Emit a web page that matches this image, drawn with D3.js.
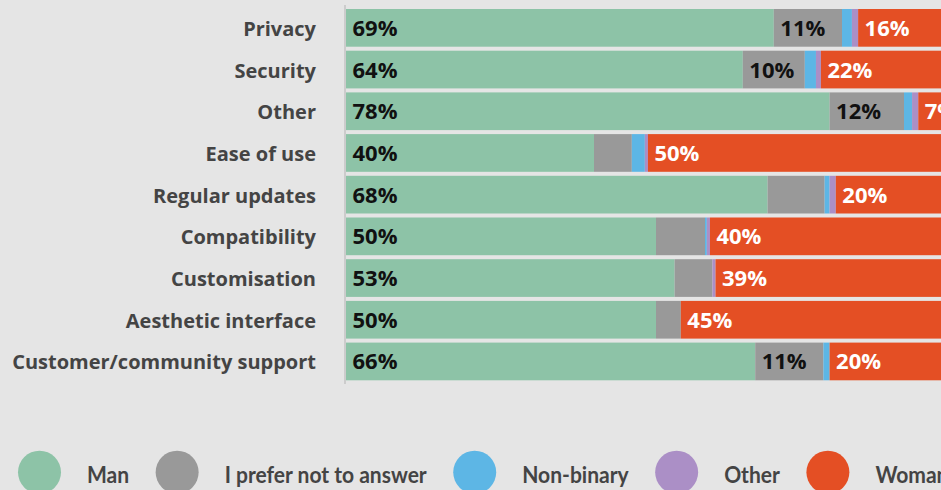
<!DOCTYPE html>
<html>
<head>
<meta charset="utf-8">
<script src="https://cdn.jsdelivr.net/npm/d3@7"></script>
<style>
  html, body { margin: 0; padding: 0; background: #e5e5e5; overflow: hidden; }
  svg { display: block; }
</style>
</head>
<body>
<svg id="chart" width="941" height="490"></svg>
<script>
// Features considered important, split by respondent gender (% of respondents)
const categories = ["Privacy", "Security", "Other", "Ease of use", "Regular updates",
  "Compatibility", "Customisation", "Aesthetic interface", "Customer/community support"];
const seriesNames = ["Man", "I prefer not to answer", "Non-binary", "Other", "Woman"];
const man         = [69, 64, 78, 40, 68, 50, 53, 50, 66];
const preferNot   = [11, 10, 12, 6.1, 9.2, 7.9, 6.1, 4.0, 11];
const nonBinary   = [1.6, 1.8, 1.3, 2.1, 0.8, 0.3, 0, 0, 1.0];
const otherGender = [1.0, 0.8, 1.0, 0.5, 1.0, 0.5, 0.5, 0, 0];
const woman       = [16, 22, 7, 50, 20, 40, 39, 45, 20];

const colors = ["#8dc3a7", "#999999", "#5db6e5", "#ab8fc6", "#e44f24"];
const labelColors = ["#111", "#111", "#111", "#111", "#fff"];
// Minimum share (%) a segment needs before it carries a value label
const labelMin = [0, 10, 100, 100, 0];

const seriesValues = [man, preferNot, nonBinary, otherGender, woman];
const rows = categories.map((c, i) => {
  const r = { category: c };
  seriesNames.forEach((s, j) => { r[s] = seriesValues[j][i]; });
  return r;
});

const svg = d3.select("#chart");
const fontFamily = "'Open Sans', sans-serif";

const x = d3.scaleLinear().domain([0, 100]).range([346, 966]);
const y = d3.scaleBand().domain(categories).range([9, 380.3]).paddingInner(0.096).paddingOuter(0);
const color = d3.scaleOrdinal().domain(seriesNames).range(colors);

const stacked = d3.stack().keys(seriesNames)(rows);

// Bars
const layers = svg.append("g").selectAll("g")
  .data(stacked)
  .join("g")
  .attr("fill", d => color(d.key));

layers.selectAll("rect")
  .data(d => d.map(p => ({ p, key: d.key })))
  .join("rect")
  .attr("x", d => x(d.p[0]))
  .attr("y", d => y(d.p.data.category))
  .attr("width", d => Math.max(0, x(d.p[1]) - x(d.p[0])))
  .attr("height", y.bandwidth());

// Value labels inside segments
stacked.forEach((layer, li) => {
  svg.append("g").selectAll("text")
    .data(layer.filter(p => (p[1] - p[0]) > 0 && (p[1] - p[0]) >= labelMin[li]))
    .join("text")
    .attr("x", p => x(p[0]) + 6.5)
    .attr("y", p => y(p.data.category) + y.bandwidth() / 2 + 8)
    .attr("font-family", fontFamily)
    .attr("font-weight", 700)
    .attr("font-size", 22)
    .attr("fill", labelColors[li])
    .text(p => Math.round(p[1] - p[0]) + "%");
});

// Category axis
const yAxis = d3.axisLeft(y).tickSize(0).tickPadding(0);
const axisG = svg.append("g")
  .attr("transform", "translate(316,0)")
  .call(yAxis);
axisG.select(".domain").remove();
axisG.selectAll("text")
  .attr("font-family", fontFamily)
  .attr("font-weight", 700)
  .attr("font-size", 20)
  .attr("fill", "#444")
  .attr("dy", null)
  .attr("y", 8);

// Baseline rule along the category axis
svg.append("line")
  .attr("x1", 345).attr("x2", 345)
  .attr("y1", 5).attr("y2", 384)
  .attr("stroke", "#cccccc")
  .attr("stroke-width", 2);

// Legend
const legend = svg.append("g");
let cursor = 18;
const r = 21.5;
seriesNames.forEach((name, i) => {
  const cx = cursor + r;
  legend.append("circle")
    .attr("cx", cx).attr("cy", 472.2).attr("r", r)
    .attr("fill", color(name));
  const tx = cx + 47.5;
  const scaleX = 0.915;
  const t = legend.append("text")
    .attr("transform", `translate(${tx},483) scale(${scaleX},1)`)
    .attr("font-family", "Lato, sans-serif")
    .attr("font-weight", 700)
    .attr("font-size", 23)
    .attr("fill", "#444")
    .text(name);
  const w = t.node().getComputedTextLength() * scaleX;
  cursor = tx + w + 26.5;
});
</script>
</body>
</html>
